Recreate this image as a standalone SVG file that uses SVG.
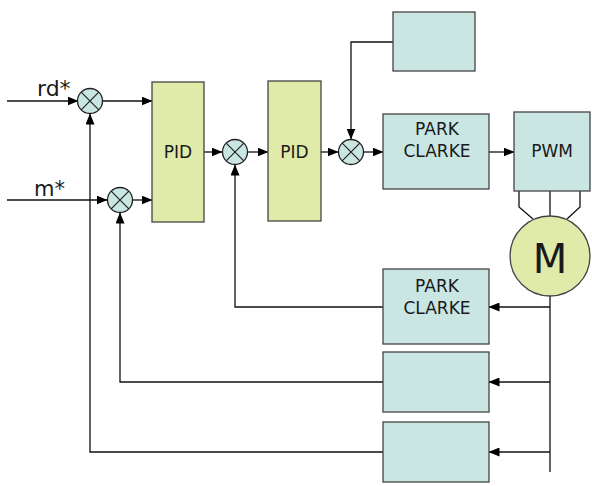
<svg xmlns="http://www.w3.org/2000/svg" width="592" height="486" viewBox="0 0 592 486">
<defs>
<marker id="ah" markerWidth="11" markerHeight="9" refX="10.5" refY="4.5" orient="auto" markerUnits="userSpaceOnUse">
<path d="M0,0 L11,4.5 L0,9 Z" fill="#000"/>
</marker>
<style>
.w{fill:none;stroke:#111;stroke-width:1.3}
.a{fill:none;stroke:#111;stroke-width:1.3;marker-end:url(#ah)}
.g{fill:#e1eba9;stroke:#444;stroke-width:1.3}
.b{fill:#c9e6e3;stroke:#444;stroke-width:1.3}
.j{fill:#c9e6e3;stroke:#222;stroke-width:1.3}
.x{stroke:#222;stroke-width:1.2}
text{font-family:"DejaVu Sans",Verdana,sans-serif;fill:#1a1a1a}
.l{font-size:17px;text-anchor:middle}
</style>
</defs>
<rect width="592" height="486" fill="#fff"/>
<g id="connectors">
<path class="a" d="M7,101 H78"/>
<path class="a" d="M7,200 H107"/>
<path class="a" d="M103,101 H152"/>
<path class="a" d="M132,200 H152"/>
<path class="a" d="M204,152 H222"/>
<path class="a" d="M248,152 H268"/>
<path class="a" d="M321,152 H338"/>
<path class="a" d="M364,152 H383"/>
<path class="a" d="M489,152 H514"/>
<path class="a" d="M393,42 H351 V139"/>
<path class="w" d="M519,191 V207 L533,219"/>
<path class="w" d="M550,191 V216"/>
<path class="w" d="M580,191 V207 L567,219"/>
<path class="w" d="M550,296 V472"/>
<path class="a" d="M550,307 H489"/>
<path class="a" d="M550,382 H489"/>
<path class="a" d="M550,452 H489"/>
<path class="a" d="M383,307 H235 V165"/>
<path class="a" d="M383,382 H120 V213"/>
<path class="a" d="M383,452 H90 V114"/>
</g>
<g id="label-rd"><text x="37" y="96" font-size="22">rd*</text></g>
<g id="label-m"><text x="34" y="196" font-size="21">m*</text></g>
<g id="sum1"><circle class="j" cx="90" cy="101" r="12.5"/><path class="x" d="M81.2,92.2 L98.8,109.8 M98.8,92.2 L81.2,109.8"/></g>
<g id="sum2"><circle class="j" cx="120" cy="200" r="12.5"/><path class="x" d="M111.2,191.2 L128.8,208.8 M128.8,191.2 L111.2,208.8"/></g>
<g id="sum3"><circle class="j" cx="235" cy="152" r="12.5"/><path class="x" d="M226.2,143.2 L243.8,160.8 M243.8,143.2 L226.2,160.8"/></g>
<g id="sum4"><circle class="j" cx="351" cy="152" r="12.5"/><path class="x" d="M342.2,143.2 L359.8,160.8 M359.8,143.2 L342.2,160.8"/></g>
<g id="pid1"><rect class="g" x="152" y="82" width="52" height="140"/><text class="l" x="178" y="158">PID</text></g>
<g id="pid2"><rect class="g" x="268" y="81" width="53" height="140"/><text class="l" x="294.5" y="158">PID</text></g>
<g id="topbox"><rect class="b" x="393" y="12" width="82" height="59"/></g>
<g id="park1"><rect class="b" x="383" y="114" width="106" height="75"/><text class="l" x="437" y="135">PARK</text><text class="l" x="437" y="157">CLARKE</text></g>
<g id="pwm"><rect class="b" x="514" y="112" width="76" height="79"/><text class="l" x="552" y="157">PWM</text></g>
<g id="motor"><circle class="g" cx="550" cy="256" r="40"/><text x="550" y="273" font-size="40" text-anchor="middle">M</text></g>
<g id="park2"><rect class="b" x="383" y="269" width="106" height="75"/><text class="l" x="437" y="292">PARK</text><text class="l" x="437" y="314">CLARKE</text></g>
<g id="box2"><rect class="b" x="383" y="352" width="106" height="60"/></g>
<g id="box3"><rect class="b" x="383" y="422" width="106" height="60"/></g>
</svg>
